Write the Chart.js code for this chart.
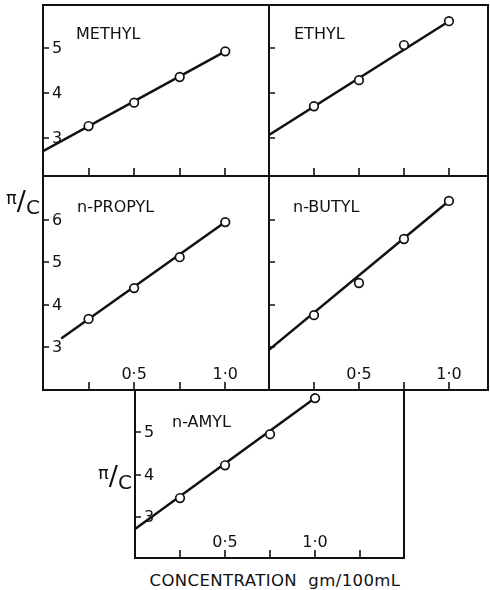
<!DOCTYPE html>
<html>
<head>
<meta charset="utf-8">
<script src="https://cdn.jsdelivr.net/npm/chart.js@4.4.1/dist/chart.umd.min.js"></script>
<style>
  body { margin: 0; background: #fff; }
  #wrap { position: relative; width: 490px; height: 590px; background: #fff; font-family: "DejaVu Sans", sans-serif; color: #111; }
  #wrap canvas { position: absolute; }
  .ylab { position: absolute; font-size: 20px; line-height: 1; white-space: nowrap; }
  .ylab .pi { position: relative; top: -6px; font-size: 18px; }
  .ylab .sl { font-size: 27px; }
  .ylab .c { position: relative; top: 4px; }
  #xtitle { position: absolute; left: 0; width: 550px; top: 571px; text-align: center; font-size: 16.5px; letter-spacing: 0.4px; }
</style>
</head>
<body>
<div id="wrap">
  <canvas id="methyl"></canvas>
  <canvas id="ethyl"></canvas>
  <canvas id="propyl"></canvas>
  <canvas id="butyl"></canvas>
  <canvas id="amyl"></canvas>
  <div class="ylab" style="left:6px; top:187px;"><span class="pi">π</span><span class="sl">/</span><span class="c">C</span></div>
  <div class="ylab" style="left:98px; top:462px;"><span class="pi">π</span><span class="sl">/</span><span class="c">C</span></div>
  <div id="xtitle">CONCENTRATION&nbsp; gm/100mL</div>
</div>
<script>
// measured points (π/C against concentration)
const concentrations = [0.25, 0.5, 0.75, 1.0];
const methylValues = [3.27, 3.79, 4.36, 4.93];
const ethylValues = [3.71, 4.29, 5.07, 5.6];
const propylValues = [3.66, 4.39, 5.12, 5.95];
const butylValues = [3.75, 4.51, 5.55, 6.45];
const amylValues = [3.45, 4.22, 4.95, 5.8];

// fitted straight lines: [start x, end x] and [start y, end y]
const methylFitX = [0, 1.0];
const methylFitY = [2.71, 4.93];
const ethylFitX = [0, 1.0];
const ethylFitY = [3.07, 5.6];
const propylFitX = [0.1, 1.0];
const propylFitY = [3.2, 5.95];
const butylFitX = [0, 1.0];
const butylFitY = [2.93, 6.45];
const amylFitX = [0, 1.0];
const amylFitY = [2.72, 5.8];

// ticks
const xTicks = [0.25, 0.5, 0.75, 1.0];
const amylXTicks = [0.25, 0.5, 0.75, 1.0, 1.25];
const xTickLabels = ["0·5", "1·0"];
const xTickLabelValues = [0.5, 1.0];
const yTicksTop = [3, 4, 5];
const yTicksMid = [3, 4, 5, 6];
const yTicksAmyl = [3, 4, 5];

const ink = "#111";
const font = '"DejaVu Sans", sans-serif';
const pad = 2;

const panels = [
  { id: "methyl", name: "METHYL", values: methylValues, fitX: methylFitX, fitY: methylFitY,
    box: [43, 5, 269, 176], xMax: 1.24, yMin: 2.16, yMax: 5.96,
    xTicks: xTicks, yTicks: yTicksTop, showY: true, showX: false, namePos: [33, 34] },
  { id: "ethyl", name: "ETHYL", values: ethylValues, fitX: ethylFitX, fitY: ethylFitY,
    box: [269, 5, 488, 176], xMax: 1.217, yMin: 2.16, yMax: 5.96,
    xTicks: xTicks, yTicks: yTicksTop, showY: false, showX: false, namePos: [25, 34] },
  { id: "propyl", name: "n-PROPYL", values: propylValues, fitX: propylFitX, fitY: propylFitY,
    box: [43, 176, 269, 390], xMax: 1.24, yMin: 1.98, yMax: 7.04,
    xTicks: xTicks, yTicks: yTicksMid, showY: true, showX: true, namePos: [34, 36] },
  { id: "butyl", name: "n-BUTYL", values: butylValues, fitX: butylFitX, fitY: butylFitY,
    box: [269, 176, 488, 390], xMax: 1.217, yMin: 1.98, yMax: 7.04,
    xTicks: xTicks, yTicks: yTicksMid, showY: false, showX: true, namePos: [24, 36] },
  { id: "amyl", name: "n-AMYL", values: amylValues, fitX: amylFitX, fitY: amylFitY,
    box: [135, 390, 404, 558], xMax: 1.494, yMin: 2.04, yMax: 5.99,
    xTicks: amylXTicks, yTicks: yTicksAmyl, showY: true, showX: true, namePos: [37, 37] }
];

function makeFrame(p) {
  return {
    id: "frame_" + p.id,
    afterDraw(chart) {
      const ctx = chart.ctx;
      const a = chart.chartArea;
      const xs = chart.scales.x;
      const ys = chart.scales.y;
      ctx.save();
      ctx.strokeStyle = ink;
      ctx.fillStyle = ink;
      ctx.lineWidth = 2;
      ctx.strokeRect(a.left, a.top, a.right - a.left, a.bottom - a.top);

      ctx.lineWidth = 1.6;
      ctx.beginPath();
      p.xTicks.forEach((v) => {
        const px = Math.round(xs.getPixelForValue(v));
        ctx.moveTo(px, a.bottom);
        ctx.lineTo(px, a.bottom - 8);
      });
      p.yTicks.forEach((v) => {
        const py = Math.round(ys.getPixelForValue(v));
        ctx.moveTo(a.left, py);
        ctx.lineTo(a.left + 6, py);
      });
      ctx.stroke();

      ctx.font = "16px " + font;
      if (p.showY) {
        ctx.textAlign = "left";
        ctx.textBaseline = "middle";
        p.yTicks.forEach((v) => {
          ctx.fillText(String(v), a.left + 9, ys.getPixelForValue(v) + 1);
        });
      }
      if (p.showX) {
        ctx.textAlign = "center";
        ctx.textBaseline = "alphabetic";
        xTickLabelValues.forEach((v, i) => {
          ctx.fillText(xTickLabels[i], xs.getPixelForValue(v), a.bottom - 11);
        });
      }

      ctx.font = "16px " + font;
      ctx.textAlign = "left";
      ctx.textBaseline = "alphabetic";
      ctx.fillText(p.name, a.left + p.namePos[0], a.top + p.namePos[1]);
      ctx.restore();
    }
  };
}

panels.forEach((p) => {
  const [x0, y0, x1, y1] = p.box;
  const canvas = document.getElementById(p.id);
  canvas.width = x1 - x0 + pad * 2;
  canvas.height = y1 - y0 + pad * 2;
  canvas.style.left = (x0 - pad) + "px";
  canvas.style.top = (y0 - pad) + "px";

  new Chart(canvas.getContext("2d"), {
    type: "line",
    data: {
      datasets: [
        {
          data: concentrations.map((c, i) => ({ x: c, y: p.values[i] })),
          showLine: false,
          pointRadius: 4.3,
          pointBorderWidth: 1.7,
          pointBackgroundColor: "#fff",
          pointBorderColor: ink
        },
        {
          data: p.fitX.map((c, i) => ({ x: c, y: p.fitY[i] })),
          borderColor: ink,
          borderWidth: 2.5,
          pointRadius: 0,
          fill: false
        }
      ]
    },
    options: {
      responsive: false,
      animation: false,
      devicePixelRatio: 1,
      layout: { padding: pad, autoPadding: false },
      scales: {
        x: { type: "linear", min: 0, max: p.xMax, display: false },
        y: { type: "linear", min: p.yMin, max: p.yMax, display: false }
      },
      plugins: { legend: { display: false }, tooltip: { enabled: false } }
    },
    plugins: [makeFrame(p)]
  });
});
</script>
</body>
</html>
